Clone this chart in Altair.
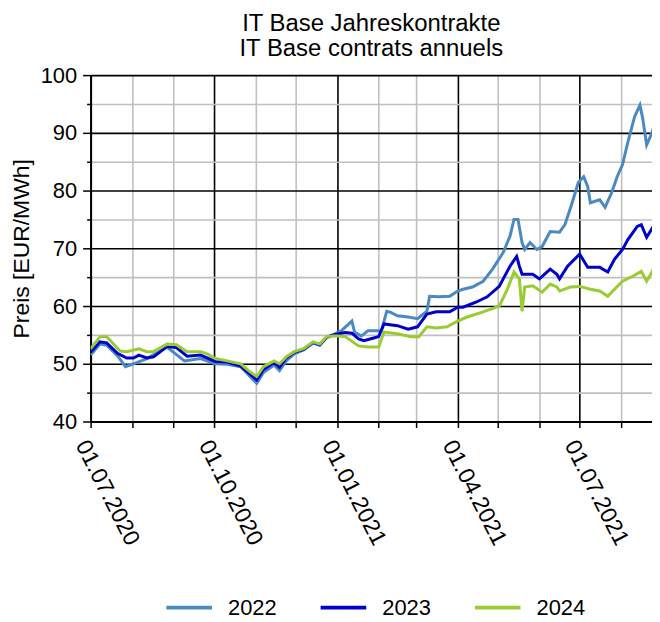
import altair as alt
import pandas as pd

# --- data ---
dates_2022 = ["2020-07-01","2020-07-08","2020-07-13","2020-07-21","2020-07-27","2020-08-02","2020-08-12","2020-08-27",
              "2020-09-09","2020-09-21","2020-10-02","2020-10-11","2020-10-21","2020-10-28","2020-11-02","2020-11-07",
              "2020-11-15","2020-11-19","2020-11-24","2020-11-30","2020-12-07","2020-12-14","2020-12-19","2020-12-24",
              "2020-12-29","2021-01-02","2021-01-04","2021-01-12","2021-01-14","2021-01-19","2021-01-24","2021-02-01",
              "2021-02-03","2021-02-07","2021-02-10","2021-02-15","2021-02-23","2021-03-02","2021-03-09","2021-03-11",
              "2021-03-18","2021-03-26","2021-04-01","2021-04-05","2021-04-12","2021-04-20","2021-04-27","2021-05-05",
              "2021-05-10","2021-05-13","2021-05-16","2021-05-19","2021-05-21","2021-05-25","2021-05-30","2021-06-03",
              "2021-06-09","2021-06-16","2021-06-20","2021-06-25","2021-06-30","2021-07-04","2021-07-07","2021-07-09",
              "2021-07-16","2021-07-20","2021-07-25","2021-07-29","2021-08-02","2021-08-06","2021-08-11","2021-08-15",
              "2021-08-17","2021-08-20","2021-08-24","2021-08-28","2021-08-30"]
values_2022 = [51.5,53.4,53.2,51.4,49.5,50.0,50.9,52.9,
               50.5,50.9,50.0,49.9,49.5,47.8,46.6,48.5,
               49.8,48.8,50.5,51.7,52.4,53.6,53.2,54.5,
               55.0,55.5,55.7,57.4,55.5,54.8,55.7,55.7,
               55.7,59.1,58.9,58.3,58.1,57.8,59.1,61.7,
               61.6,61.7,62.6,62.9,63.3,64.3,66.4,69.3,
               72.1,75.0,75.0,71.0,69.8,71.0,69.8,70.3,
               72.9,72.8,74.1,77.6,81.4,82.4,80.7,77.9,
               78.4,77.1,79.7,82.4,84.5,88.4,92.8,94.8,
               92.6,87.9,90.0,93.4,95.7]

dates_2023 = ["2020-07-01","2020-07-08","2020-07-13","2020-07-21","2020-07-28","2020-08-02","2020-08-06","2020-08-12",
              "2020-08-17","2020-08-27","2020-09-03","2020-09-11","2020-09-21","2020-10-02","2020-10-11","2020-10-21",
              "2020-10-28","2020-11-02","2020-11-07","2020-11-15","2020-11-19","2020-11-24","2020-11-30","2020-12-07",
              "2020-12-14","2020-12-19","2020-12-24","2020-12-29","2021-01-02","2021-01-07","2021-01-12","2021-01-17",
              "2021-01-21","2021-01-29","2021-02-01","2021-02-05","2021-02-15","2021-02-23","2021-03-02","2021-03-09",
              "2021-03-16","2021-03-26","2021-04-01","2021-04-05","2021-04-15","2021-04-23","2021-05-02","2021-05-10",
              "2021-05-15","2021-05-17","2021-05-19","2021-05-27","2021-06-01","2021-06-09","2021-06-14","2021-06-16",
              "2021-06-22","2021-07-01","2021-07-07","2021-07-16","2021-07-22","2021-07-27","2021-08-02","2021-08-06",
              "2021-08-13","2021-08-16","2021-08-20","2021-08-25","2021-08-30"]
values_2023 = [52.0,53.8,53.6,51.8,51.0,51.0,51.5,51.0,
               51.2,53.0,52.8,51.3,51.5,50.4,50.3,49.6,
               48.2,47.2,49.0,50.2,49.4,51.0,52.0,52.5,
               53.7,53.3,54.6,55.0,55.2,55.4,55.3,54.3,
               54.0,54.5,54.7,56.9,56.6,56.0,56.4,58.6,
               59.0,59.0,59.8,59.8,60.7,61.6,63.4,66.9,
               68.6,66.9,65.5,65.5,64.7,66.4,65.5,64.7,
               66.9,69.0,66.7,66.7,65.9,68.1,69.8,71.5,
               73.8,74.1,71.9,73.8,76.7]

dates_2024 = ["2020-07-01","2020-07-08","2020-07-13","2020-07-23","2020-07-28","2020-08-06","2020-08-12","2020-08-17",
              "2020-08-27","2020-09-03","2020-09-11","2020-09-21","2020-09-26","2020-10-02","2020-10-11","2020-10-21",
              "2020-10-28","2020-11-02","2020-11-07","2020-11-15","2020-11-19","2020-11-24","2020-11-30","2020-12-07",
              "2020-12-14","2020-12-19","2020-12-24","2020-12-29","2021-01-02","2021-01-07","2021-01-17","2021-01-24",
              "2021-02-01","2021-02-05","2021-02-15","2021-02-25","2021-03-03","2021-03-09","2021-03-16","2021-03-24",
              "2021-04-01","2021-04-08","2021-04-20","2021-05-02","2021-05-08","2021-05-13","2021-05-17","2021-05-19",
              "2021-05-21","2021-05-27","2021-06-03","2021-06-09","2021-06-14","2021-06-16","2021-06-24","2021-07-01",
              "2021-07-09","2021-07-16","2021-07-22","2021-07-27","2021-08-02","2021-08-10","2021-08-16","2021-08-20",
              "2021-08-24","2021-08-30"]
values_2024 = [52.6,54.7,54.7,52.2,52.1,52.6,52.1,52.1,
               53.4,53.3,52.1,52.1,51.7,50.9,50.5,50.0,
               48.6,47.8,49.5,50.5,50.0,51.2,52.1,52.6,
               53.8,53.4,54.7,54.8,54.8,54.7,53.1,52.9,
               52.9,55.5,55.2,54.7,54.7,56.4,56.2,56.4,
               57.4,58.1,59.0,60.0,62.9,65.9,64.7,59.1,
               63.3,63.5,62.4,63.8,63.3,62.6,63.3,63.4,
               62.9,62.6,61.7,62.9,64.3,65.2,66.0,64.3,
               65.9,69.3]

series_names = ["2022", "2023", "2024"]
series_colors = ["#4a8ac4", "#0000cc", "#99cc33"]

month_ticks = [(2020, m) for m in range(7, 13)] + [(2021, m) for m in range(1, 9)]
y_ticks = list(range(40, 101, 5))

rows = []
for name, ds, vs in [("2022", dates_2022, values_2022), ("2023", dates_2023, values_2023), ("2024", dates_2024, values_2024)]:
    for d, v in zip(ds, vs):
        rows.append({"Datum": d, "Preis": v, "Kontrakt": name})
df = pd.DataFrame(rows)

x_values = [alt.DateTime(year=y, month=m, date=1, utc=True) for y, m in month_ticks]

x_axis = alt.Axis(
    values=x_values,
    title=None,
    labelExpr="utcmonth(datum.value) % 3 == 0 ? utcFormat(datum.value, '%d.%m.%Y') : ''",
    labelAngle=63,
    labelAlign="left",
    labelBaseline="top",
    labelFontSize=23,
    labelPadding=9,
    labelOverlap=False,
    labelFlush=False,
    tickSize=6,
    tickColor="black",
    tickWidth=1.5,
    domainColor="black",
    domainWidth=2,
    gridColor={"condition": {"test": "utcmonth(datum.value) % 3 == 0", "value": "black"}, "value": "#c0c0c0"},
    gridWidth=1.6,
    gridOpacity=1,
)

y_axis = alt.Axis(
    values=y_ticks,
    title="Preis [EUR/MWh]",
    titleFontSize=23,
    titleFontWeight="normal",
    titlePadding=7,
    labelExpr="datum.value % 10 == 0 ? datum.label : ''",
    labelFontSize=22,
    labelPadding=6,
    tickSize={"condition": {"test": "datum.value % 10 == 0", "value": 8}, "value": 4},
    tickColor="black",
    tickWidth=1.5,
    domainColor="black",
    domainWidth=2,
    gridColor={"condition": {"test": "datum.value % 10 == 0", "value": "black"}, "value": "#c0c0c0"},
    gridWidth=1.6,
    gridOpacity=1,
)

chart = alt.Chart(df).mark_line(strokeWidth=3, interpolate="linear", clip=True).encode(
    x=alt.X("Datum:T", axis=x_axis,
            scale=alt.Scale(type="utc", domain=[alt.DateTime(year=2020, month=7, date=1, utc=True),
                                                 alt.DateTime(year=2021, month=8, date=24, utc=True)], nice=False)),
    y=alt.Y("Preis:Q", axis=y_axis, scale=alt.Scale(domain=[40, 100], nice=False, zero=False)),
    color=alt.Color("Kontrakt:N",
                    scale=alt.Scale(domain=series_names, range=series_colors),
                    legend=alt.Legend(title=None, orient="none", direction="horizontal",
                                      legendX=74, legendY=510,
                                      symbolType="stroke", symbolSize=2100, symbolStrokeWidth=4,
                                      labelFontSize=22, labelOffset=14, columnPadding=36)),
).properties(
    width=564,
    height=348,
    title=alt.TitleParams(["IT Base Jahreskontrakte", "IT Base contrats annuels"],
                          fontSize=24, fontWeight="normal", anchor="middle", lineHeight=25, offset=3),
).configure(
    font="Liberation Sans",
    padding={"left": 2, "right": 0, "top": 3, "bottom": 0},
).configure_view(
    strokeWidth=0,
)

chart.save("out.html", embed_options={"renderer": "svg", "actions": False})
